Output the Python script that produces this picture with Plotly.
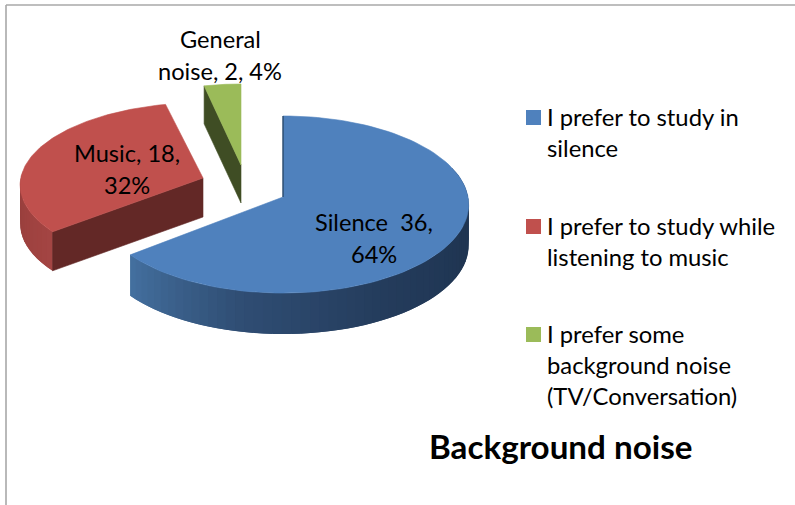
import numpy as np
import plotly.graph_objects as go

# Data
categories = ["Silence", "Music", "General noise"]
values = [36, 18, 2]
percents = [64, 32, 4]
legend_lines = [
    ["I prefer to study in", "silence"],
    ["I prefer to study while", "listening to music"],
    ["I prefer some", "background noise", "(TV/Conversation)"],
]
title_text = "Background noise"
label_lines = [
    [f"{categories[0]}  {values[0]},", f"{percents[0]}%"],
    [f"{categories[1]}, {values[1]},", f"{percents[1]}%"],
    ["General", f"noise, {values[2]}, {percents[2]}%"],
]

# Style and layout constants
top_colors = ["#4f81bd", "#c0504d", "#9bbb59"]
FONT = "Lato"
RX, RY, PERSP = 185.0, 87.9, 0.085
apexes = [(283, 197), (203, 178), (241, 165)]
x_scale = [1.0, 0.985, 0.97]
y_scale = [1.0, 0.93, 1.0]
depths = [41, 39, 38]

edges = np.concatenate([[0], np.cumsum(values)]) / sum(values) * 360.0


def project(i, theta):
    t = np.radians(theta)
    X, Y = np.sin(t), -np.cos(t)
    s = 1.0 / (1.0 - PERSP * Y)
    return apexes[i][0] + RX * x_scale[i] * X * s, apexes[i][1] + RY * y_scale[i] * Y * s


def hexmix(a, b, f):
    ca = [int(a[k:k + 2], 16) for k in (1, 3, 5)]
    cb = [int(b[k:k + 2], 16) for k in (1, 3, 5)]
    return "#%02x%02x%02x" % tuple(round(p + (q - p) * f) for p, q in zip(ca, cb))


fig = go.Figure()


def poly(xs, ys, color, lw=0.6):
    fig.add_trace(go.Scatter(
        x=list(xs), y=list(ys), mode="lines", fill="toself", fillcolor=color,
        line=dict(color=color, width=lw), hoverinfo="skip", showlegend=False))


def wall(i, a, b, stops, n=40):
    # Each band runs on under the next one so no seams show between bands.
    th = np.linspace(a, b, n + 1)
    d = depths[i]
    for k in range(n):
        x0, y0 = project(i, th[k])
        x1, y1 = project(i, th[min(k + 2, n)])
        f = (k + 0.5) / n * (len(stops) - 1)
        j = min(int(f), len(stops) - 2)
        poly([x0, x1, x1, x0, x0], [y0, y1, y1 + d, y0 + d, y0],
             hexmix(stops[j], stops[j + 1], f - j), lw=0)


def top(i):
    th = np.linspace(edges[i], edges[i + 1], 100)
    x, y = project(i, th)
    ax, ay = apexes[i]
    poly(np.r_[ax, x, ax], np.r_[ay, y, ay], top_colors[i])


def radial(i, theta, color):
    x, y = project(i, theta)
    ax, ay = apexes[i]
    d = depths[i]
    poly([ax, x, x, ax, ax], [ay, y, y + d, ay + d, ay], color)


# Green slice
radial(2, edges[2], "#3f4d24")
top(2)
# Red slice
wall(1, 275, edges[1], ["#943c3a", "#a44543"], n=14)
radial(1, edges[1], "#632826")
top(1)
# Blue slice
wall(0, 70, edges[1], ["#1f3552", "#1f3552", "#243c5c", "#2f4d73", "#44709f"], n=60)
top(0)
fig.add_trace(go.Scatter(
    x=[apexes[0][0], project(0, 0)[0]], y=[apexes[0][1], project(0, 0)[1]], mode="lines",
    line=dict(color="#24405f", width=1.2), hoverinfo="skip", showlegend=False))

# Legend swatches
fig.add_trace(go.Scatter(
    x=[533.5, 533.5, 533.5], y=[117.5, 226.5, 334.5], mode="markers",
    marker=dict(symbol="square", size=15, color=top_colors, line=dict(width=0)),
    hoverinfo="skip", showlegend=False))

annotations = []


def text(x, y, s, size=23.6, anchor="center", bold=False):
    annotations.append(dict(
        x=x, y=y, xref="x", yref="y", text=f"<b>{s}</b>" if bold else s, showarrow=False,
        xanchor=anchor, yanchor="middle", font=dict(family=FONT, size=size, color="#000000")))


for (cx, cy), lines in zip([(374, 222), (127, 153), (220, 39)], label_lines):
    for n, line in enumerate(lines):
        text(cx, cy + n * 31.5, line)
for y0, lines in zip([117, 226, 334], legend_lines):
    for n, line in enumerate(lines):
        text(545, y0 + n * 31, line, size=23.8, anchor="left")
text(561, 446, title_text, size=33.2, bold=True)

fig.update_layout(
    width=795, height=505, margin=dict(l=0, r=0, t=0, b=0),
    paper_bgcolor="#ffffff", plot_bgcolor="#ffffff", showlegend=False,
    xaxis=dict(range=[0, 795], visible=False, fixedrange=True),
    yaxis=dict(range=[505, 0], visible=False, fixedrange=True),
    annotations=annotations,
    shapes=[
        dict(type="line", xref="x", yref="y", x0=6, x1=795, y0=5, y1=5, line=dict(color="#a8a8a8", width=1.6)),
        dict(type="line", xref="x", yref="y", x0=6, x1=6, y0=5, y1=505, line=dict(color="#a8a8a8", width=1.6)),
    ],
)
fig.write_html(
    "out.html",
    config={"displayModeBar": False},
    post_script="document.body.style.margin='0';document.body.style.overflow='hidden';",
)
